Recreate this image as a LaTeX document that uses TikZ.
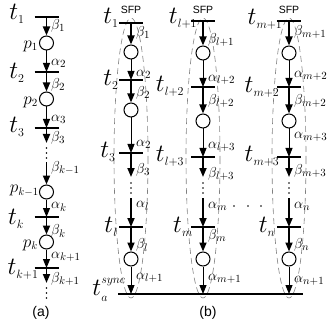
\documentclass[tikz,border=0pt]{standalone}
\usepackage{fontspec}
\newfontfamily\lsans{Liberation Sans}
\DeclareMathSizes{23}{23}{13}{10}
\DeclareMathSizes{15}{15}{10.5}{8}
\DeclareMathSizes{18}{18}{11}{8}
\usetikzlibrary{arrows.meta,calc}
\begin{document}
\begin{tikzpicture}[x=1pt,y=-1pt,
 place/.style={circle,draw,line width=1pt,minimum size=14pt,inner sep=0pt},
 tbarline/.style={line width=1.8pt},
 tipped/.style={-{Triangle[width=7pt,length=9pt]}},
 thk/.style={tipped,line width=1.7pt},
 thn/.style={tipped,line width=0.9pt},
 tl/.style={font=\fontsize{23}{23}\selectfont,inner sep=0pt},
 al/.style={font=\fontsize{15}{15}\selectfont,inner sep=0pt,anchor=west},
 pl/.style={font=\fontsize{18}{18}\selectfont,inner sep=0pt,anchor=east},
 sfpell/.style={gray,line width=0.6pt,dash pattern=on 6pt off 4pt},
 sfpl/.style={font=\lsans\fontsize{10.5}{10.5}\selectfont,inner sep=0pt},
 captxt/.style={font=\lsans\fontsize{14}{14}\selectfont,inner sep=0pt},
]
\useasboundingbox (0,0) rectangle (328,320);
\newcommand\TB[2][12]{\draw[tbarline] ($(#2)+(-#1,0)$) -- ($(#2)+(#1,0)$);}
% ---------------- panel (a)
\def\xa{46.5}
\coordinate (a1) at (\xa,17);
\node[place] (pa1) at (\xa,43) {};
\coordinate (a2) at (\xa,72);
\node[place] (pa2) at (\xa,99) {};
\coordinate (a3) at (\xa,128);
\coordinate (a3e) at (\xa,143);
\coordinate (a4s) at (\xa,162);
\node[place] (pk1) at (\xa,192) {};
\coordinate (ak) at (\xa,217);
\node[place] (pk) at (\xa,242) {};
\coordinate (ak1) at (\xa,268);
\coordinate (ak1e) at (\xa,283);
\draw[line width=1.2pt] ($(a1)+(-12,0)$) -- ($(a1)+(12,0)$);
\TB{a2}\TB{a3}\TB{ak}\TB{ak1}
\draw[thk] (a1) -- (pa1.north);
\draw[thn] (pa1.south) -- (a2);
\draw[thk] (a2) -- (pa2.north);
\draw[thn] (pa2.south) -- (a3);
\draw[thk] (a3) -- (a3e);
\draw[thk] (a4s) -- (pk1.north);
\draw[thn] (pk1.south) -- (ak);
\draw[thk] (ak) -- (pk.north);
\draw[thn] (pk.south) -- (ak1);
\draw[thk] (ak1) -- (ak1e);
\foreach \y in {148,153,158,288,293,298} \fill (\xa,\y) circle (0.9pt);
\node[tl] (la1) at (17,14) {$t_1$};
\node[tl] (la2) at (17,73) {$t_2$};
\node[tl] (la3) at (17,127) {$t_3$};
\node[tl] (lak) at (16,219) {$t_k$};
\node[tl] (lak1) at (23,269) {$t_{k+1}$};
\node[pl] at (38,46) {$p_1$};
\node[pl] at (38,102) {$p_2$};
\node[pl] at (39,191) {$p_{k-1}$};
\node[pl] at (38,245) {$p_k$};
\node[al] at (51,26) {$\beta_1$};
\node[al] at (51,63) {$\alpha_2$};
\node[al] at (51,85) {$\beta_2$};
\node[al] at (51,119) {$\alpha_3$};
\node[al] at (51,138) {$\beta_3$};
\node[al] at (51,168) {$\beta_{k-1}$};
\node[al] at (51,207) {$\alpha_k$};
\node[al] at (51,231) {$\beta_k$};
\node[al] at (51,257) {$\alpha_{k+1}$};
\node[al] at (51,279) {$\beta_{k+1}$};
\node[captxt] at (41,313) {(a)};
% ---------------- panel (b)
\coordinate (sl) at (118,294);
\coordinate (sr) at (303,294);
\foreach \c/\cx/\ta/\pa/\tb/\pb/\tc in {1/131/23/52/80/110/153, 2/203/21/53/87/121/157, 3/289/21/53/87/121/157}{
  \draw[sfpell] (\cx,158) ellipse [x radius=17, y radius=140];
  \coordinate (b\c t1) at (\cx,\ta);
  \node[place] (b\c p1) at (\cx,\pa) {};
  \coordinate (b\c t2) at (\cx,\tb);
  \node[place] (b\c p2) at (\cx,\pb) {};
  \coordinate (b\c t3) at (\cx,\tc);
  \coordinate (b\c e3) at (\cx,177);
  \coordinate (b\c s4) at (\cx,198);
  \coordinate (b\c tl) at (\cx,227);
  \node[place] (b\c pl) at (\cx,259) {};
  \coordinate (b\c sy) at (\cx,294);
  \draw[line width=1.2pt] ($(b\c t1)+(-12,0)$) -- ($(b\c t1)+(12,0)$);
  \TB{b\c t2}\TB{b\c t3}\TB{b\c tl}
  \draw[thk] (b\c t1) -- (b\c p1.north);
  \draw[thn] (b\c p1.south) -- (b\c t2);
  \draw[thk] (b\c t2) -- (b\c p2.north);
  \draw[thn] (b\c p2.south) -- (b\c t3);
  \draw[thk] (b\c t3) -- (b\c e3);
  \draw[thk] (b\c s4) -- (b\c tl);
  \draw[thk] (b\c tl) -- (b\c pl.north);
  \draw[thn] (b\c pl.south) -- (b\c sy);
  \foreach \y in {183,188,193} \fill (\cx,\y) circle (0.9pt);
  \node[sfpl] at (\cx,10) {SFP};
}
\draw[tbarline] (sl) -- (sr);
\foreach \x in {234,248,261} \fill (\x,206) circle (0.9pt);
% column 1 labels
\node[tl] at (111,18) {$t_1$};
\node[tl] at (111,80) {$t_2$};
\node[tl] at (108,152) {$t_3$};
\node[tl] at (111,227) {$t_l$};
\node[tl] at (109,290) {$t_a^{\raisebox{2.5pt}{$\scriptstyle sync$}}$};
\node[al] at (136,33) {$\beta_1$};
\node[al] at (136,74) {$\alpha_2$};
\node[al] at (136,93) {$\beta_2$};
\node[al] at (136,144) {$\alpha_2$};
\node[al] at (136,170) {$\beta_3$};
\node[al] at (136,206) {$\alpha_l$};
\node[al] at (136,245) {$\beta_l$};
\node[al] at (136,278) {$\alpha_{l+1}$};
% column 2 labels
\node[tl] at (183,18) {$t_{l+1}$};
\node[tl] at (170,86) {$t_{l+2}$};
\node[tl] at (170,156) {$t_{l+3}$};
\node[tl] at (183,227) {$t_m$};
\node[al] at (208,40) {$\beta_{l+1}$};
\node[al] at (208,80) {$\alpha_{l+2}$};
\node[al] at (208,101) {$\beta_{l+2}$};
\node[al] at (208,147) {$\alpha_{l+3}$};
\node[al] at (208,174) {$\beta_{l+3}$};
\node[al] at (208,206) {$\alpha_m$};
\node[al] at (208,236) {$\beta_m$};
\node[al] at (208,279) {$\alpha_{m+1}$};
\node[captxt] at (208,313) {(b)};
% column 3 labels
\node[tl] at (265,19) {$t_{m+1}$};
\node[tl] at (262,87) {$t_{m+2}$};
\node[tl] at (262,156) {$t_{m+3}$};
\node[tl] at (267,227) {$t_n$};
\node[al] at (294,32) {$\beta_{m+1}$};
\node[al] at (294,76) {$\alpha_{m+2}$};
\node[al] at (294,101) {$\beta_{m+2}$};
\node[al] at (294,137) {$\alpha_{m+3}$};
\node[al] at (294,171) {$\beta_{m+3}$};
\node[al] at (294,206) {$\alpha_n$};
\node[al] at (294,245) {$\beta_n$};
\node[al] at (294,281) {$\alpha_{n+1}$};
\end{tikzpicture}
\end{document}
